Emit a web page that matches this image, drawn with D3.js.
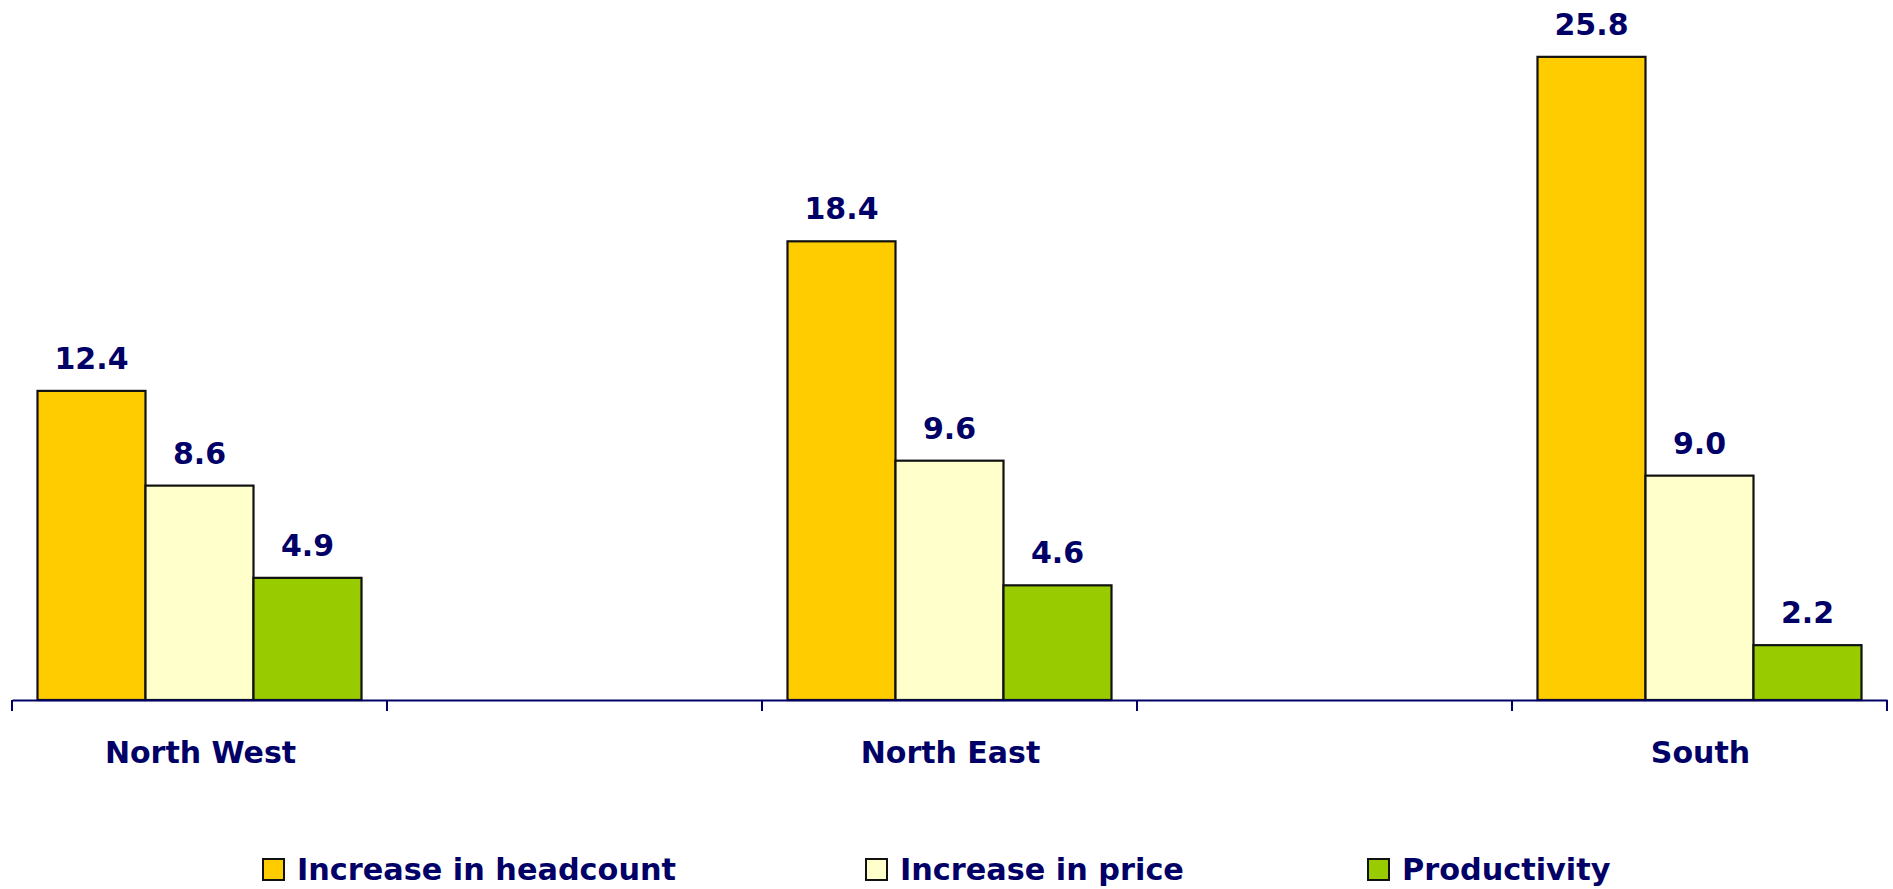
<!DOCTYPE html>
<html>
<head>
<meta charset="utf-8">
<script src="https://cdn.jsdelivr.net/npm/d3@7"></script>
<style>
  html, body { margin: 0; padding: 0; background: #ffffff; }
  svg { display: block; }
  text { font-family: "DejaVu Sans", Verdana, sans-serif; font-weight: bold; fill: #000066; }
</style>
</head>
<body>
<svg id="chart" width="1893" height="889"></svg>
<script>
// ---- data ----
const categories = ["North West", "", "North East", " ", "South"];
const seriesNames = ["Increase in headcount", "Increase in price", "Productivity"];
const headcount = [12.4, null, 18.4, null, 25.8];
const price = [8.6, null, 9.6, null, 9.0];
const productivity = [4.9, null, 4.6, null, 2.2];
const seriesColors = ["#FFCC00", "#FFFFCC", "#99CC00"];

const seriesValues = [headcount, price, productivity];

const svg = d3.select("#chart");
const axisY = 700;

const x = d3.scaleBand().domain(categories).range([12, 1887]).padding(0);
const xInner = d3.scaleBand().domain(seriesNames)
  .range([25.5, x.bandwidth() - 25.5]).padding(0);
const y = d3.scaleLinear().domain([0, 28]).range([axisY, 2]);

// bars
seriesNames.forEach((name, si) => {
  const data = categories.map((c, i) => ({ c, v: seriesValues[si][i] })).filter(d => d.v !== null);
  const g = svg.append("g");
  g.selectAll("rect").data(data).enter().append("rect")
    .attr("x", d => x(d.c) + xInner(name))
    .attr("y", d => y(d.v))
    .attr("width", xInner.bandwidth())
    .attr("height", d => y(0) - y(d.v))
    .attr("fill", seriesColors[si])
    .attr("stroke", "#111111")
    .attr("stroke-width", 2.2);
  g.selectAll("text").data(data).enter().append("text")
    .attr("x", d => x(d.c) + xInner(name) + xInner.bandwidth() / 2)
    .attr("y", d => y(d.v) - 22)
    .attr("text-anchor", "middle")
    .style("font-size", "30px")
    .text(d => d3.format(".1f")(d.v));
});

// axis
const axis = d3.axisBottom(x).tickSize(0).tickFormat("");
const axG = svg.append("g").attr("transform", `translate(0,${axisY})`).call(axis);
axG.select(".domain").attr("stroke", "#000066").attr("stroke-width", 2);
// category boundary ticks
const boundaries = categories.map(c => x(c)).concat([x.range()[1]]);
axG.selectAll(".bound").data(boundaries).enter().append("line")
  .attr("x1", d => d).attr("x2", d => d)
  .attr("y1", 0).attr("y2", 11)
  .attr("stroke", "#000066").attr("stroke-width", 2);

// category labels
svg.append("g").selectAll("text").data(categories.filter(c => c.trim() !== ""))
  .enter().append("text")
  .attr("x", d => x(d) + x.bandwidth() / 2 + 1)
  .attr("y", 763)
  .attr("text-anchor", "middle")
  .style("font-size", "30px")
  .text(d => d);

// legend
const legendX = [263, 866, 1368];
const leg = svg.append("g");
seriesNames.forEach((name, i) => {
  leg.append("rect")
    .attr("x", legendX[i]).attr("y", 859)
    .attr("width", 21).attr("height", 21)
    .attr("fill", seriesColors[i])
    .attr("stroke", "#111111").attr("stroke-width", 2);
  leg.append("text")
    .attr("x", legendX[i] + 34).attr("y", 880)
    .style("font-size", "30.3px")
    .text(name);
});
</script>
</body>
</html>
